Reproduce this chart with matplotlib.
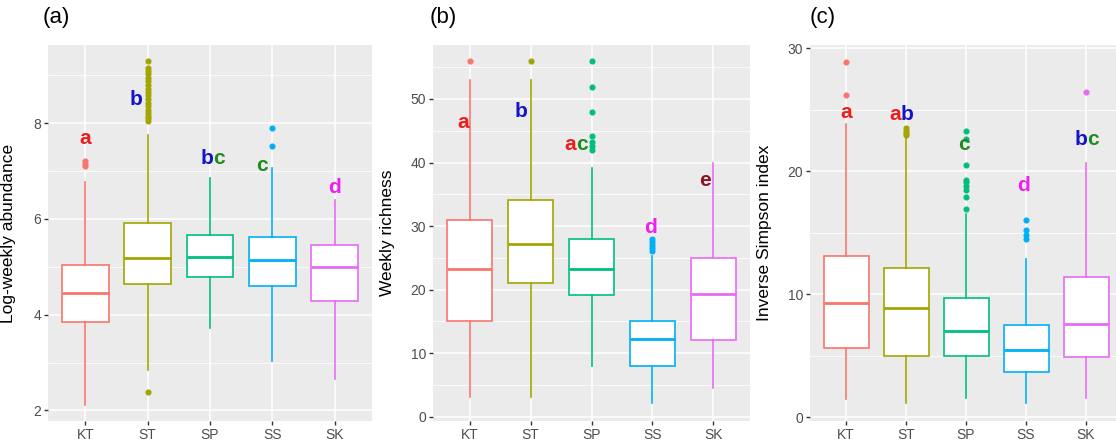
import matplotlib
matplotlib.use("Agg")
import matplotlib.pyplot as plt
from matplotlib.ticker import FixedLocator

plt.rcParams['font.family'] = ['Liberation Sans', 'DejaVu Sans']

categories = ["KT", "ST", "SP", "SS", "SK"]
box_colors = ["#F8766D", "#A3A500", "#00BF7D", "#00B0F6", "#E76BF3"]

# ---- Panel (a): Log-weekly abundance ----
a_q1 = [3.84, 4.63, 4.78, 4.59, 4.28]
a_med = [4.45, 5.19, 5.21, 5.15, 4.99]
a_q3 = [5.03, 5.91, 5.67, 5.63, 5.46]
a_lo = [2.12, 2.85, 3.73, 3.03, 2.65]
a_hi = [6.78, 7.75, 6.85, 7.06, 6.40]
a_fliers = [
    [7.10, 7.15, 7.20],
    [2.38, 8.05, 8.10, 8.15, 8.20, 8.28, 8.35, 8.42, 8.50, 8.58, 8.65, 8.72,
     8.80, 8.87, 8.95, 9.02, 9.08, 9.15, 9.30],
    [],
    [7.53, 7.90],
    [],
]
a_letters = [("a", 1.0, 7.67), ("b", 1.81, 8.50), ("bc", 3.06, 7.27),
             ("c", 3.84, 7.11), ("d", 5.0, 6.65)]

# ---- Panel (b): Weekly richness ----
b_q1 = [15.1, 21.0, 19.15, 8.0, 12.1]
b_med = [23.2, 27.1, 23.2, 12.2, 19.3]
b_q3 = [30.96, 34.1, 28.0, 15.1, 25.0]
b_lo = [3.15, 3.15, 7.9, 2.1, 4.5]
b_hi = [53.0, 53.0, 39.1, 25.3, 40.0]
b_fliers = [
    [56.0],
    [56.0],
    [42.0, 42.6, 43.2, 44.1, 48.0, 51.9, 56.0],
    [26.0, 26.5, 27.0, 27.5, 28.0],
    [],
]
b_letters = [("a", 0.89, 46.3), ("b", 1.85, 48.1), ("ac", 2.75, 42.9),
             ("d", 3.97, 29.8), ("e", 4.86, 37.1)]

# ---- Panel (c): Inverse Simpson index ----
c_q1 = [5.64, 5.0, 5.0, 3.7, 4.9]
c_med = [9.3, 8.9, 7.0, 5.5, 7.6]
c_q3 = [13.07, 12.1, 9.7, 7.5, 11.4]
c_lo = [1.5, 1.2, 1.6, 1.2, 1.6]
c_hi = [23.85, 22.7, 16.5, 12.9, 20.7]
c_fliers = [
    [26.2, 28.9],
    [22.9, 23.1, 23.3, 23.5],
    [16.9, 17.9, 18.5, 18.8, 19.1, 19.3, 20.5, 22.6, 23.3],
    [14.5, 14.8, 15.2, 16.0],
    [26.4],
]
c_letters = [("a", 1.0, 24.8), ("ab", 1.92, 24.6), ("c", 2.97, 22.2),
             ("d", 3.95, 18.8), ("bc", 5.02, 22.6)]

letter_colors = {"a": "#EE1C1C", "b": "#1414C8", "c": "#1E8C1E",
                 "d": "#F01EF0", "e": "#8C1428"}

panels = [
    dict(q1=a_q1, med=a_med, q3=a_q3, lo=a_lo, hi=a_hi, fl=a_fliers,
         letters=a_letters, ylim=(1.78, 9.63), yticks=[2, 4, 6, 8],
         yminor=[3, 5, 7, 9], ylabel="Log-weekly abundance", tag="(a)",
         pos=[48, 324], tagx=43, labx=16),
    dict(q1=b_q1, med=b_med, q3=b_q3, lo=b_lo, hi=b_hi, fl=b_fliers,
         letters=b_letters, ylim=(-0.7, 58.5), yticks=[0, 10, 20, 30, 40, 50],
         yminor=[5, 15, 25, 35, 45, 55], ylabel="Weekly richness", tag="(b)",
         pos=[433, 317], tagx=430, labx=395),
    dict(q1=c_q1, med=c_med, q3=c_q3, lo=c_lo, hi=c_hi, fl=c_fliers,
         letters=c_letters, ylim=(-0.3, 30.25), yticks=[0, 10, 20, 30],
         yminor=[5, 15, 25], ylabel="Inverse Simpson index", tag="(c)",
         pos=[810, 312], tagx=810, labx=772),
]

W, H = 1116, 447
fig = plt.figure(figsize=(W / 100, H / 100), dpi=100)
top_px, bot_px = 45, 421

for p in panels:
    left, width = p["pos"]
    ax = fig.add_axes([left / W, 1 - bot_px / H, width / W, (bot_px - top_px) / H])
    ax.set_facecolor("#EBEBEB")
    for s in ax.spines.values():
        s.set_visible(False)

    for i in range(5):
        col = box_colors[i]
        st = dict(q1=p["q1"][i], med=p["med"][i], q3=p["q3"][i],
                  whislo=p["lo"][i], whishi=p["hi"][i], fliers=p["fl"][i])
        ax.bxp([st], positions=[i + 1], widths=0.75, showcaps=False,
               patch_artist=True, manage_ticks=False,
               boxprops=dict(facecolor="white", edgecolor=col, lw=1.2),
               whiskerprops=dict(color=col, lw=1.2),
               medianprops=dict(color=col, lw=2.0),
               flierprops=dict(marker="o", markerfacecolor=col,
                               markeredgecolor=col, markersize=3.4,
                               linestyle="none"))

    ax.set_xlim(0.4, 5.6)
    ax.set_ylim(*p["ylim"])
    ax.set_yticks(p["yticks"])
    ax.set_yticklabels([str(t) for t in p["yticks"]])
    ax.yaxis.set_minor_locator(FixedLocator(p["yminor"]))
    ax.set_xticks(range(1, 6))
    ax.set_xticklabels(categories)
    ax.grid(True, which="major", color="white", lw=1.1)
    ax.grid(True, which="minor", axis="y", color="white", lw=0.55)
    ax.set_axisbelow(True)
    ax.tick_params(which="major", length=3, width=1, color="#333333",
                   labelcolor="#4D4D4D", labelsize=10, pad=2)
    ax.tick_params(which="minor", length=0)

    for txt, x, y in p["letters"]:
        if len(txt) == 1:
            ax.text(x, y, txt, color=letter_colors[txt], fontsize=15,
                    fontweight="bold", ha="center", va="center")
        else:
            t1 = ax.text(x, y, txt[0], color=letter_colors[txt[0]],
                         fontsize=15, fontweight="bold", ha="right",
                         va="center")
            ax.annotate(txt[1], xy=(0.96, 0), xycoords=t1,
                        color=letter_colors[txt[1]], fontsize=15,
                        fontweight="bold", ha="left", va="bottom")

    ax.set_ylabel(p["ylabel"], fontsize=12.5, color="black")
    ax.yaxis.set_label_coords((p["labx"] - left) / width, 0.5)
    fig.text(p["tagx"] / W, 1 - 17 / H, p["tag"], fontsize=16,
             ha="left", va="center")

fig.savefig("out.png", dpi=100, facecolor="white")
